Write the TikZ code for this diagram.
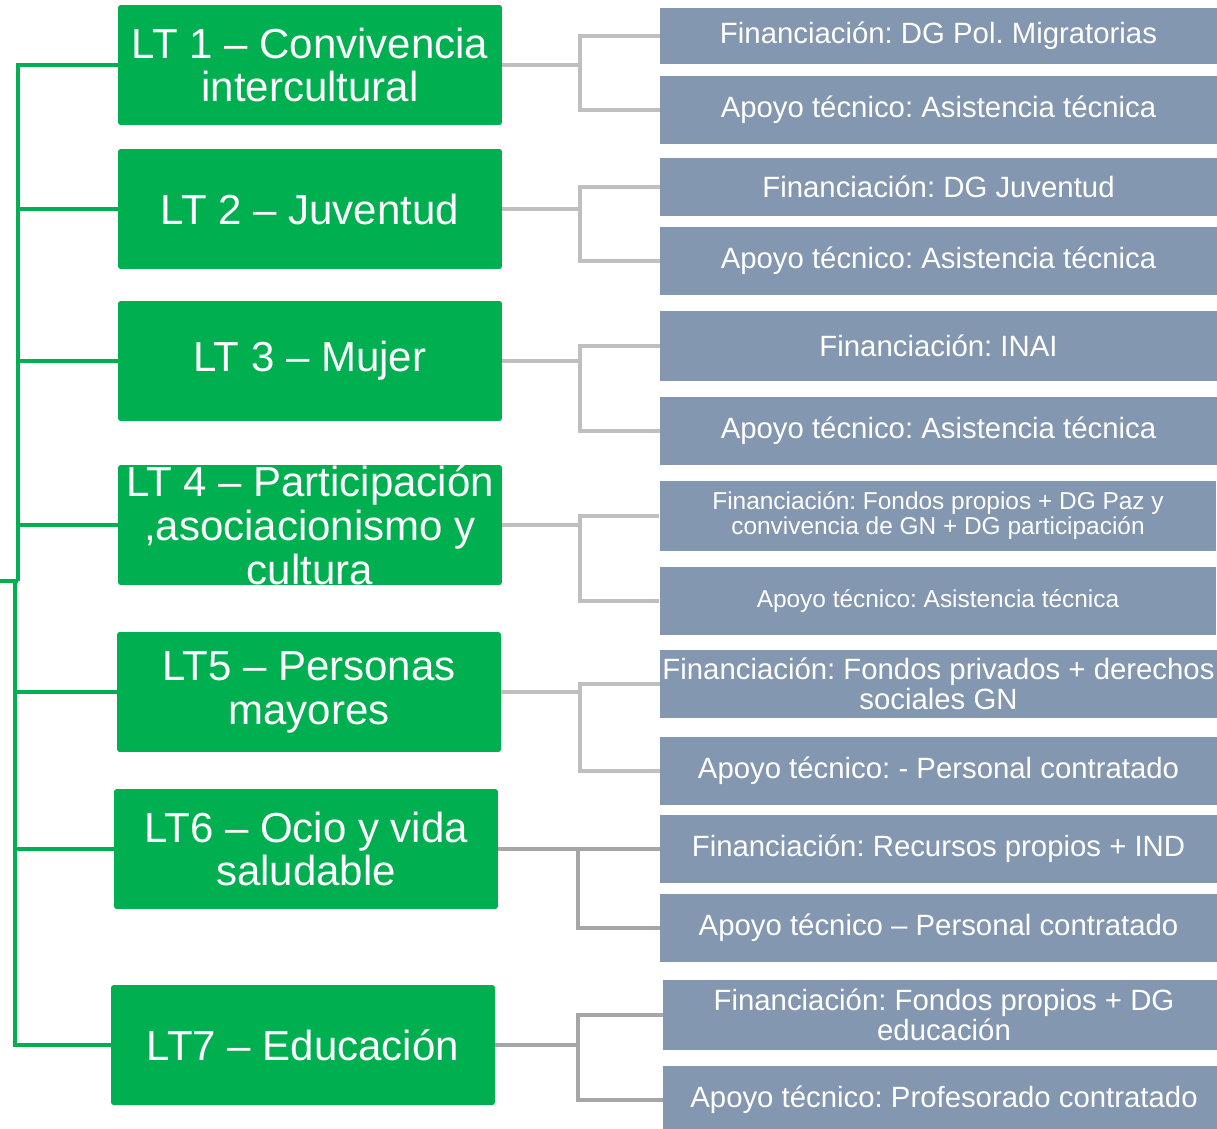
\documentclass[tikz,border=0pt]{standalone}
\usepackage{fontspec}
\setmainfont{Liberation Sans}
\usepackage{tikz}
\frenchspacing
\definecolor{verdeLT}{HTML}{00B050}
\definecolor{grisazul}{HTML}{8497B0}
\definecolor{grisclaro}{HTML}{BFBFBF}
\definecolor{grisoscuro}{HTML}{A6A6A6}
\tikzstyle{lt} = [rectangle, rounded corners=1.5pt, minimum width=7.68cm, minimum height=2.4cm, inner sep=0pt, align=center, fill=verdeLT, text=white, font=\fontsize{23.9}{25}\selectfont]
\tikzstyle{recurso} = [rectangle, minimum width=11.14cm, minimum height=1.36cm, inner sep=0pt, align=center, fill=grisazul, text=white, font=\fontsize{16.7}{17}\selectfont]
\tikzstyle{recursopeq} = [recurso, font=\fontsize{13.9}{14.2}\selectfont]
\tikzstyle{tronco} = [line width=2.6pt, draw=verdeLT]
\tikzstyle{rama} = [line width=2.3pt, draw=grisclaro]
\tikzstyle{ramaosc} = [line width=2.3pt, draw=grisoscuro]

\begin{document}
\begin{tikzpicture}[x=0.02cm, y=-0.02cm]
    \useasboundingbox (0,0) rectangle (1217,1129);

    % lineas de trabajo
    \node (lt1) [lt] at (310,65) {LT 1 – Convivencia\\intercultural};
    \node (lt2) [lt] at (310,209) {LT 2 – Juventud};
    \node (lt3) [lt] at (310,361) {LT 3 – Mujer};
    \node (lt4) [lt] at (310,525) {LT 4 – Participación\\,asociacionismo y\\cultura};
    \node (lt5) [lt] at (309,692) {LT5 – Personas\\mayores};
    \node (lt6) [lt] at (306,849) {LT6 – Ocio y vida\\saludable};
    \node (lt7) [lt] at (303,1045) {LT7 – Educación};

    % financiacion y apoyo
    \node (fin1) [recurso, minimum height=1.12cm] at (938.5,36) {Financiación: DG Pol. Migratorias};
    \node (apo1) [recurso] at (938.5,110) {Apoyo técnico: Asistencia técnica};
    \node (fin2) [recurso, minimum height=1.18cm] at (938.5,187) {Financiación: DG Juventud};
    \node (apo2) [recurso] at (938.5,261) {Apoyo técnico: Asistencia técnica};
    \node (fin3) [recurso, minimum height=1.4cm] at (938.5,346) {Financiación: INAI};
    \node (apo3) [recurso] at (938.5,431) {Apoyo técnico: Asistencia técnica};
    \node (fin4) [recursopeq, minimum height=1.4cm] at (938,516) {Financiación: Fondos propios + DG Paz y\\convivencia de GN + DG participación};
    \node (apo4) [recursopeq] at (938,601) {Apoyo técnico: Asistencia técnica};
    \node (fin5) [recurso] at (938.5,684) {Financiación: Fondos privados + derechos\\sociales GN};
    \node (apo5) [recurso] at (938.5,771) {Apoyo técnico: - Personal contratado};
    \node (fin6) [recurso] at (938.5,849) {Financiación: Recursos propios + IND};
    \node (apo6) [recurso] at (938.5,928) {Apoyo técnico – Personal contratado};
    \node (fin7) [recurso, minimum width=11.24cm, minimum height=1.4cm] at (944,1015) {Financiación: Fondos propios + DG\\educación};
    \node (apo7) [recurso, minimum width=11.24cm] at (944,1100) {Apoyo técnico: Profesorado contratado};

    % tronco verde
    \coordinate (raiz) at (0,581);
    \coordinate (nudoA) at (18,581);
    \coordinate (nudoB) at (15,581);
    \foreach \n in {lt1,lt2,lt3,lt4}
        \draw [tronco] (\n.west) -| (nudoA);
    \foreach \n in {lt5,lt6,lt7}
        \draw [tronco] (\n.west) -| (nudoB);
    \draw [tronco] (raiz) -- (nudoA);

    % ramas grises
    \foreach \i/\x/\y/\estilo in {1/580/65/rama, 2/580/209/rama, 3/580/361/rama, 4/580/525/rama, 5/580/692/rama, 6/578/849/ramaosc, 7/578/1045/ramaosc} {
        \coordinate (j\i) at (\x,\y);
        \draw [\estilo] (lt\i.east) -- (j\i);
        \draw [\estilo] (fin\i.west) -| (j\i) |- (apo\i.west);
    }
\end{tikzpicture}
\end{document}
